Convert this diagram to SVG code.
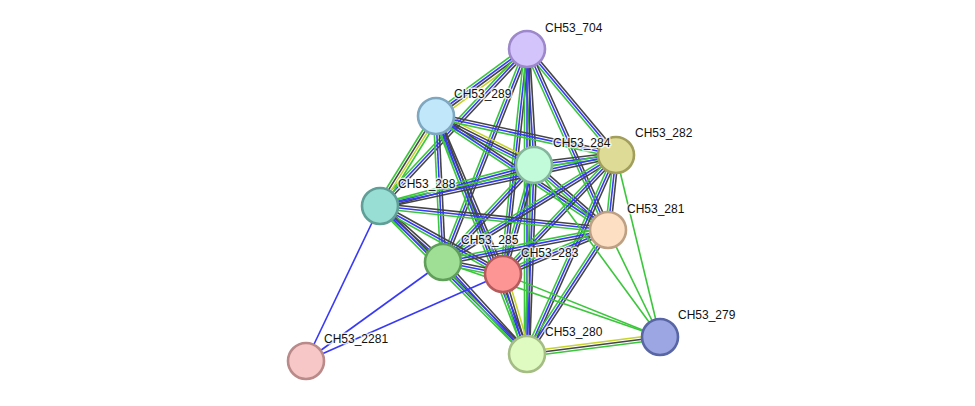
<svg xmlns="http://www.w3.org/2000/svg" width="975" height="406" viewBox="0 0 975 406">
<style>
.g{stroke:#3cc63c}.b{stroke:#3838f8}.k{stroke:#454545}.y{stroke:#c6d42c}
#edges line{stroke-width:1.6;fill:none}
.n circle{stroke-width:2.6}
.n text{font-family:"Liberation Sans",Arial,sans-serif;font-size:12px;fill:#111;stroke:#fff;stroke-width:3;stroke-opacity:0.75;paint-order:stroke;stroke-linejoin:round}
</style>
<rect width="975" height="406" fill="#fff"/>
<g id="edges">
<!-- A-B 704-289 (4 lines) -->
<line class="g" x1="527" y1="49" x2="436" y2="116" transform="translate(-2.22,-3.02)"/>
<line class="b" x1="527" y1="49" x2="436" y2="116" transform="translate(-0.74,-1.01)"/>
<line class="k" x1="527" y1="49" x2="436" y2="116" transform="translate(0.74,1.01)"/>
<line class="y" x1="527" y1="49" x2="436" y2="116" transform="translate(2.22,3.02)"/>
<!-- A-C -->
<line class="g" x1="527" y1="49" x2="534" y2="165" transform="translate(-2.50,0.15)"/>
<line class="b" x1="527" y1="49" x2="534" y2="165"/>
<line class="k" x1="527" y1="49" x2="534" y2="165" transform="translate(2.50,-0.15)"/>
<!-- A-D -->
<line class="g" x1="527" y1="49" x2="616" y2="155" transform="translate(-1.92,1.61)"/>
<line class="b" x1="527" y1="49" x2="616" y2="155"/>
<line class="k" x1="527" y1="49" x2="616" y2="155" transform="translate(1.92,-1.61)"/>
<!-- A-E -->
<line class="g" x1="527" y1="49" x2="380" y2="206" transform="translate(-1.83,-1.71)"/>
<line class="b" x1="527" y1="49" x2="380" y2="206"/>
<line class="k" x1="527" y1="49" x2="380" y2="206" transform="translate(1.83,1.71)"/>
<!-- A-F -->
<line class="g" x1="527" y1="49" x2="608" y2="230" transform="translate(-2.28,1.02)"/>
<line class="b" x1="527" y1="49" x2="608" y2="230"/>
<line class="k" x1="527" y1="49" x2="608" y2="230" transform="translate(2.28,-1.02)"/>
<!-- A-G -->
<line class="g" x1="527" y1="49" x2="443" y2="262" transform="translate(-2.33,-0.92)"/>
<line class="b" x1="527" y1="49" x2="443" y2="262"/>
<line class="k" x1="527" y1="49" x2="443" y2="262" transform="translate(2.33,0.92)"/>
<!-- A-H -->
<line class="g" x1="527" y1="49" x2="503" y2="274" transform="translate(-2.49,-0.27)"/>
<line class="b" x1="527" y1="49" x2="503" y2="274"/>
<line class="k" x1="527" y1="49" x2="503" y2="274" transform="translate(2.49,0.27)"/>
<!-- A-J -->
<line class="g" x1="527" y1="49" x2="527" y2="354" transform="translate(-2.5,0)"/>
<line class="b" x1="527" y1="49" x2="527" y2="354"/>
<line class="k" x1="527" y1="49" x2="527" y2="354" transform="translate(2.5,0)"/>
<!-- B-C (4) -->
<line class="g" x1="436" y1="116" x2="534" y2="165" transform="translate(-1.68,3.36)"/>
<line class="b" x1="436" y1="116" x2="534" y2="165" transform="translate(-0.56,1.12)"/>
<line class="k" x1="436" y1="116" x2="534" y2="165" transform="translate(0.56,-1.12)"/>
<line class="y" x1="436" y1="116" x2="534" y2="165" transform="translate(1.68,-3.36)"/>
<!-- B-D -->
<line class="g" x1="436" y1="116" x2="616" y2="155" transform="translate(-0.53,2.44)"/>
<line class="b" x1="436" y1="116" x2="616" y2="155"/>
<line class="k" x1="436" y1="116" x2="616" y2="155" transform="translate(0.53,-2.44)"/>
<!-- B-E (4) -->
<line class="g" x1="436" y1="116" x2="380" y2="206" transform="translate(-3.18,-1.98)"/>
<line class="k" x1="436" y1="116" x2="380" y2="206" transform="translate(-1.06,-0.66)"/>
<line class="y" x1="436" y1="116" x2="380" y2="206" transform="translate(1.06,0.66)"/>
<line class="g" x1="436" y1="116" x2="380" y2="206" transform="translate(3.18,1.98)"/>
<!-- B-F -->
<line class="g" x1="436" y1="116" x2="608" y2="230" transform="translate(-1.38,2.09)"/>
<line class="b" x1="436" y1="116" x2="608" y2="230"/>
<line class="k" x1="436" y1="116" x2="608" y2="230" transform="translate(1.38,-2.09)"/>
<!-- B-G -->
<line class="g" x1="436" y1="116" x2="443" y2="262" transform="translate(-2.50,0.12)"/>
<line class="b" x1="436" y1="116" x2="443" y2="262"/>
<line class="k" x1="436" y1="116" x2="443" y2="262" transform="translate(2.50,-0.12)"/>
<!-- B-H -->
<line class="g" x1="436" y1="116" x2="503" y2="274" transform="translate(-2.30,0.98)"/>
<line class="b" x1="436" y1="116" x2="503" y2="274"/>
<line class="k" x1="436" y1="116" x2="503" y2="274" transform="translate(2.30,-0.98)"/>
<!-- B-J -->
<line class="g" x1="436" y1="116" x2="527" y2="354" transform="translate(-2.34,0.89)"/>
<line class="b" x1="436" y1="116" x2="527" y2="354"/>
<line class="k" x1="436" y1="116" x2="527" y2="354" transform="translate(2.34,-0.89)"/>
<!-- C-D -->
<line class="g" x1="534" y1="165" x2="616" y2="155" transform="translate(0.30,2.48)"/>
<line class="b" x1="534" y1="165" x2="616" y2="155"/>
<line class="k" x1="534" y1="165" x2="616" y2="155" transform="translate(-0.30,-2.48)"/>
<!-- C-E -->
<line class="g" x1="534" y1="165" x2="380" y2="206" transform="translate(-0.64,-2.42)"/>
<line class="b" x1="534" y1="165" x2="380" y2="206"/>
<line class="k" x1="534" y1="165" x2="380" y2="206" transform="translate(0.64,2.42)"/>
<!-- C-F -->
<line class="g" x1="534" y1="165" x2="608" y2="230" transform="translate(-1.65,1.88)"/>
<line class="b" x1="534" y1="165" x2="608" y2="230"/>
<line class="k" x1="534" y1="165" x2="608" y2="230" transform="translate(1.65,-1.88)"/>
<!-- C-G -->
<line class="g" x1="534" y1="165" x2="443" y2="262" transform="translate(-1.82,-1.71)"/>
<line class="b" x1="534" y1="165" x2="443" y2="262"/>
<line class="k" x1="534" y1="165" x2="443" y2="262" transform="translate(1.82,1.71)"/>
<!-- C-H -->
<line class="g" x1="534" y1="165" x2="503" y2="274" transform="translate(-2.41,-0.69)"/>
<line class="b" x1="534" y1="165" x2="503" y2="274"/>
<line class="k" x1="534" y1="165" x2="503" y2="274" transform="translate(2.41,0.69)"/>
<!-- C-J -->
<line class="g" x1="534" y1="165" x2="527" y2="354" transform="translate(-2.50,-0.09)"/>
<line class="b" x1="534" y1="165" x2="527" y2="354"/>
<line class="k" x1="534" y1="165" x2="527" y2="354" transform="translate(2.50,0.09)"/>
<!-- D-E -->
<line class="g" x1="616" y1="155" x2="380" y2="206" transform="translate(-0.53,-2.45)"/>
<line class="b" x1="616" y1="155" x2="380" y2="206"/>
<line class="k" x1="616" y1="155" x2="380" y2="206" transform="translate(0.53,2.45)"/>
<!-- D-F -->
<line class="g" x1="616" y1="155" x2="608" y2="230" transform="translate(-2.49,-0.27)"/>
<line class="b" x1="616" y1="155" x2="608" y2="230"/>
<line class="k" x1="616" y1="155" x2="608" y2="230" transform="translate(2.49,0.27)"/>
<!-- D-G -->
<line class="g" x1="616" y1="155" x2="443" y2="262" transform="translate(-1.32,-2.13)"/>
<line class="b" x1="616" y1="155" x2="443" y2="262"/>
<line class="k" x1="616" y1="155" x2="443" y2="262" transform="translate(1.32,2.13)"/>
<!-- D-H -->
<line class="g" x1="616" y1="155" x2="503" y2="274" transform="translate(-1.81,-1.72)"/>
<line class="b" x1="616" y1="155" x2="503" y2="274"/>
<line class="k" x1="616" y1="155" x2="503" y2="274" transform="translate(1.81,1.72)"/>
<!-- D-J -->
<line class="g" x1="616" y1="155" x2="527" y2="354" transform="translate(-2.28,-1.02)"/>
<line class="b" x1="616" y1="155" x2="527" y2="354"/>
<line class="k" x1="616" y1="155" x2="527" y2="354" transform="translate(2.28,1.02)"/>
<!-- E-F -->
<line class="g" x1="380" y1="206" x2="608" y2="230" transform="translate(-0.26,2.49)"/>
<line class="b" x1="380" y1="206" x2="608" y2="230"/>
<line class="k" x1="380" y1="206" x2="608" y2="230" transform="translate(0.26,-2.49)"/>
<!-- E-G -->
<line class="g" x1="380" y1="206" x2="443" y2="262" transform="translate(-1.66,1.87)"/>
<line class="b" x1="380" y1="206" x2="443" y2="262"/>
<line class="k" x1="380" y1="206" x2="443" y2="262" transform="translate(1.66,-1.87)"/>
<!-- E-H -->
<line class="g" x1="380" y1="206" x2="503" y2="274" transform="translate(-1.21,2.19)"/>
<line class="b" x1="380" y1="206" x2="503" y2="274"/>
<line class="k" x1="380" y1="206" x2="503" y2="274" transform="translate(1.21,-2.19)"/>
<!-- E-J -->
<line class="g" x1="380" y1="206" x2="527" y2="354" transform="translate(-1.77,1.76)"/>
<line class="b" x1="380" y1="206" x2="527" y2="354"/>
<line class="k" x1="380" y1="206" x2="527" y2="354" transform="translate(1.77,-1.76)"/>
<!-- F-G -->
<line class="g" x1="608" y1="230" x2="443" y2="262" transform="translate(-0.48,-2.46)"/>
<line class="b" x1="608" y1="230" x2="443" y2="262"/>
<line class="k" x1="608" y1="230" x2="443" y2="262" transform="translate(0.48,2.46)"/>
<!-- F-H -->
<line class="g" x1="608" y1="230" x2="503" y2="274" transform="translate(-0.97,-2.31)"/>
<line class="b" x1="608" y1="230" x2="503" y2="274"/>
<line class="k" x1="608" y1="230" x2="503" y2="274" transform="translate(0.97,2.31)"/>
<!-- F-J -->
<line class="g" x1="608" y1="230" x2="527" y2="354" transform="translate(-2.09,-1.37)"/>
<line class="b" x1="608" y1="230" x2="527" y2="354"/>
<line class="k" x1="608" y1="230" x2="527" y2="354" transform="translate(2.09,1.37)"/>
<!-- G-H -->
<line class="g" x1="443" y1="262" x2="503" y2="274" transform="translate(-0.49,2.45)"/>
<line class="b" x1="443" y1="262" x2="503" y2="274"/>
<line class="k" x1="443" y1="262" x2="503" y2="274" transform="translate(0.49,-2.45)"/>
<!-- G-J -->
<line class="g" x1="443" y1="262" x2="527" y2="354" transform="translate(-1.85,1.69)"/>
<line class="b" x1="443" y1="262" x2="527" y2="354"/>
<line class="k" x1="443" y1="262" x2="527" y2="354" transform="translate(1.85,-1.69)"/>
<!-- H-J (4) -->
<line class="g" x1="503" y1="274" x2="527" y2="354" transform="translate(-3.60,1.08)"/>
<line class="b" x1="503" y1="274" x2="527" y2="354" transform="translate(-1.20,0.36)"/>
<line class="k" x1="503" y1="274" x2="527" y2="354" transform="translate(1.20,-0.36)"/>
<line class="y" x1="503" y1="274" x2="527" y2="354" transform="translate(3.60,-1.08)"/>
<!-- 279 edges -->
<line class="g" x1="534" y1="165" x2="660" y2="337"/>
<line class="g" x1="608" y1="230" x2="660" y2="337"/>
<line class="g" x1="616" y1="155" x2="660" y2="337"/>
<line class="g" x1="503" y1="274" x2="660" y2="337"/>
<line class="g" x1="443" y1="262" x2="660" y2="337"/>
<line class="y" x1="527" y1="354" x2="660" y2="337" transform="translate(-0.32,-2.48)"/>
<line class="k" x1="527" y1="354" x2="660" y2="337"/>
<line class="g" x1="527" y1="354" x2="660" y2="337" transform="translate(0.32,2.48)"/>
<!-- 2281 edges -->
<line class="b" x1="306" y1="361" x2="380" y2="206"/>
<line class="b" x1="306" y1="361" x2="443" y2="262"/>
<line class="b" x1="306" y1="361" x2="503" y2="274"/>
</g>
<g id="node-CH53_704" class="n"><circle cx="527" cy="49" r="18" fill="#d4c4fc" stroke="#9c88ca"/><text x="545" y="32">CH53_704</text></g>
<g id="node-CH53_289" class="n"><circle cx="436" cy="116" r="18" fill="#c1e7fb" stroke="#7fa8c0"/><text x="454" y="98">CH53_289</text></g>
<g id="node-CH53_282" class="n"><circle cx="616" cy="155" r="18" fill="#dddb96" stroke="#a29e5c"/><text x="635" y="137">CH53_282</text></g>
<g id="node-CH53_284" class="n"><circle cx="534" cy="165" r="18" fill="#c2fbda" stroke="#83b69b"/><text x="553" y="147">CH53_284</text></g>
<g id="node-CH53_288" class="n"><circle cx="380" cy="206" r="18" fill="#98ded5" stroke="#5f9f97"/><text x="398" y="188">CH53_288</text></g>
<g id="node-CH53_281" class="n"><circle cx="608" cy="230" r="18" fill="#fddfc3" stroke="#bea184"/><text x="627" y="213">CH53_281</text></g>
<g id="node-CH53_285" class="n"><circle cx="443" cy="262" r="18" fill="#9fde95" stroke="#609f59"/><text x="461" y="244">CH53_285</text></g>
<g id="node-CH53_283" class="n"><circle cx="503" cy="274" r="18" fill="#fd9595" stroke="#b55b5b"/><text x="521" y="257">CH53_283</text></g>
<g id="node-CH53_279" class="n"><circle cx="660" cy="337" r="18" fill="#9ca6e2" stroke="#5866a5"/><text x="678" y="319">CH53_279</text></g>
<g id="node-CH53_280" class="n"><circle cx="527" cy="354" r="18" fill="#e0fbc1" stroke="#a4bd85"/><text x="545" y="336">CH53_280</text></g>
<g id="node-CH53_2281" class="n"><circle cx="306" cy="361" r="18" fill="#f7c7c7" stroke="#ba8989"/><text x="324" y="343">CH53_2281</text></g>
</svg>
